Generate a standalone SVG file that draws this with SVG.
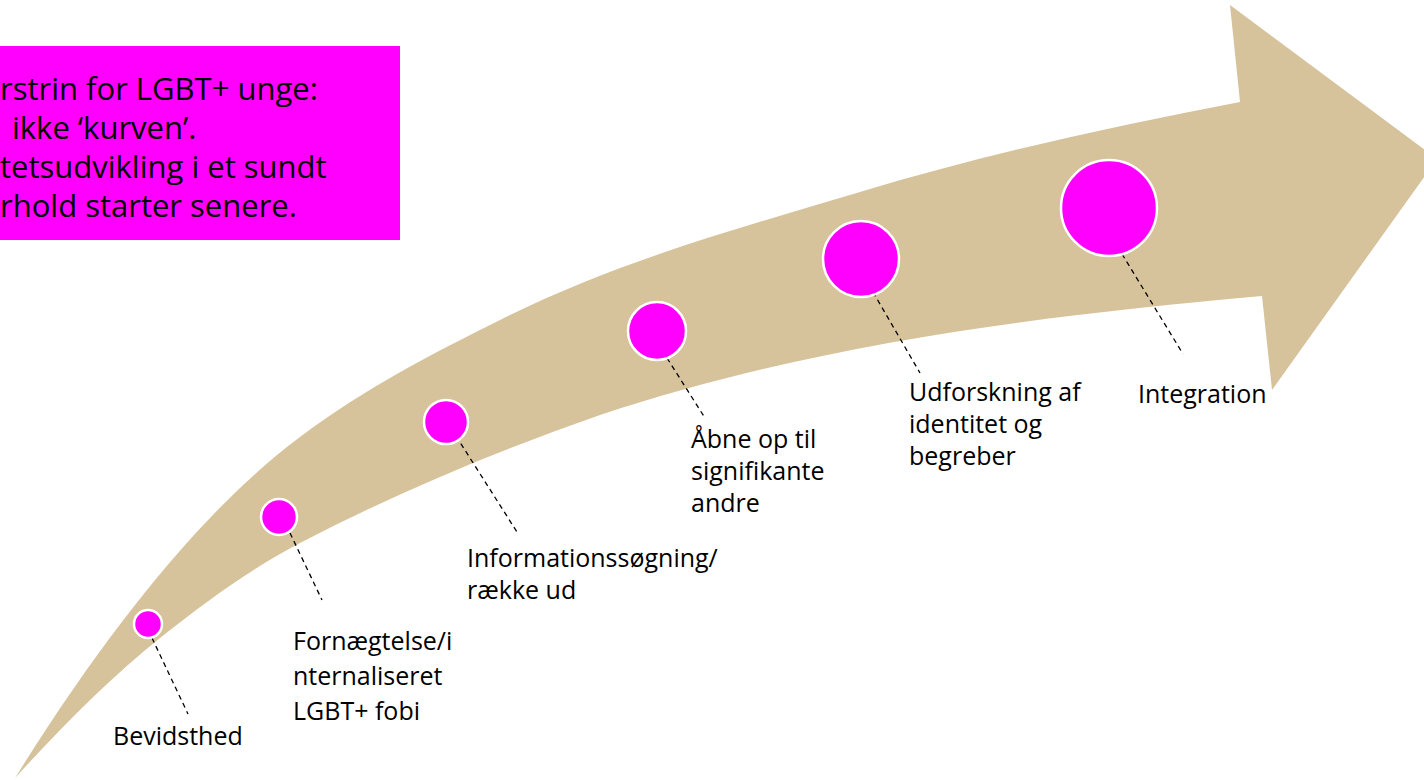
<svg xmlns="http://www.w3.org/2000/svg" width="1424" height="780" viewBox="0 0 1424 780">
<style>
.lbl{font-family:"Open Sans","Liberation Sans",sans-serif;font-size:25px;fill:#000}
.box{font-family:"Open Sans","Liberation Sans",sans-serif;font-size:31px;fill:#000}
.dot{fill:#FF00FF;stroke:#FFFFFF;stroke-width:2.5}
.lead{stroke:#000;stroke-width:1.3;stroke-dasharray:5 4;fill:none}
</style>
<rect width="1424" height="780" fill="#FFFFFF"/>
<g id="arrow">
<path fill="#D6C39B" d="M15,778 C110,626 205,508 300,437 C366.7,387 433.3,353.3 500,320 C620,260 740,228 860,192 C986.7,154 1113.3,126 1240,102 L1230,5 L1437,159 L1272,390 L1262,296 C1042,316 820,342 600,415 C500,450 400,491 300,543 C253,567.4 207,600.4 160,638 C112,676.4 63,725.2 15,778 Z"/>
</g>
<g id="info-box">
<rect x="0" y="46" width="400" height="194" fill="#FF00FF"/>
<text class="box" x="0" y="100">rstrin for LGBT+ unge:</text>
<text class="box" x="12" y="139">ikke ‘kurven’.</text>
<text class="box" x="0" y="178">tetsudvikling i et sundt</text>
<text class="box" x="0" y="217">rhold starter senere.</text>
</g>
<g id="connectors">
<line class="lead" x1="152" y1="638" x2="188" y2="714"/>
<line class="lead" x1="290" y1="533" x2="322" y2="600"/>
<line class="lead" x1="456" y1="436" x2="517" y2="532"/>
<line class="lead" x1="667" y1="358" x2="705" y2="418"/>
<line class="lead" x1="873" y1="292" x2="920" y2="373"/>
<line class="lead" x1="1122" y1="254" x2="1183" y2="354"/>
</g>
<g id="node-bevidsthed">
<circle class="dot" cx="148" cy="624" r="14"/>
<text class="lbl" x="113" y="745">Bevidsthed</text>
</g>
<g id="node-fornaegtelse">
<circle class="dot" cx="279" cy="517" r="18"/>
<text class="lbl" x="293" y="650">Fornægtelse/i</text>
<text class="lbl" x="293" y="685">nternaliseret</text>
<text class="lbl" x="293" y="720">LGBT+ fobi</text>
</g>
<g id="node-information">
<circle class="dot" cx="446" cy="422" r="22"/>
<text class="lbl" x="467" y="567">Informationssøgning/</text>
<text class="lbl" x="467" y="599">række ud</text>
</g>
<g id="node-aabne">
<circle class="dot" cx="657" cy="331" r="29"/>
<text class="lbl" x="691" y="448">Åbne op til</text>
<text class="lbl" x="691" y="480">signifikante</text>
<text class="lbl" x="691" y="512">andre</text>
</g>
<g id="node-udforskning">
<circle class="dot" cx="861" cy="259" r="38"/>
<text class="lbl" x="909" y="401">Udforskning af</text>
<text class="lbl" x="909" y="433">identitet og</text>
<text class="lbl" x="909" y="465">begreber</text>
</g>
<g id="node-integration">
<circle class="dot" cx="1109" cy="208" r="48"/>
<text class="lbl" x="1138" y="403">Integration</text>
</g>
</svg>
